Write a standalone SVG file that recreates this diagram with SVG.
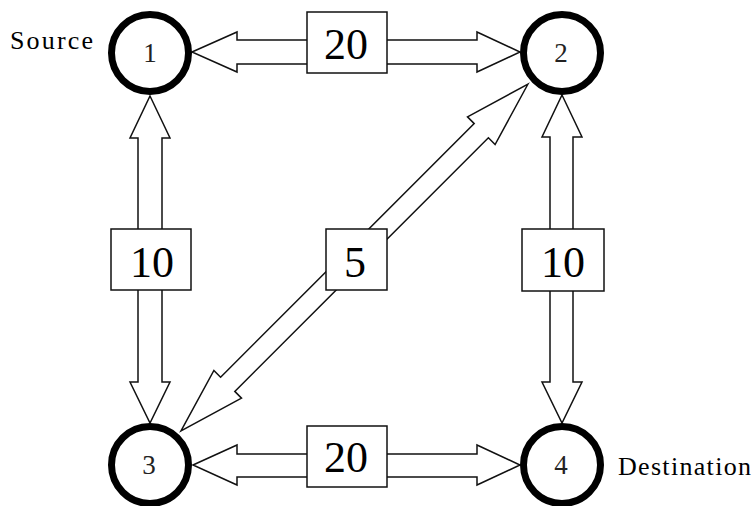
<svg xmlns="http://www.w3.org/2000/svg" width="753" height="506" viewBox="0 0 753 506">
<style>
.arrow{fill:#fff;stroke:#111;stroke-width:1.5;stroke-linejoin:miter}
.node{fill:#fff;stroke:#000;stroke-width:7}
.nlab{font-family:"Liberation Serif","Times New Roman",serif;font-size:27px;fill:#222;text-anchor:middle}
.box{fill:#fff;stroke:#111;stroke-width:1.5}
.wlab{font-family:"Liberation Serif","Times New Roman",serif;font-size:44px;fill:#000;text-anchor:middle}
.side{font-family:"Liberation Serif","Times New Roman",serif;font-size:26px;fill:#000}
</style>
<rect width="753" height="506" fill="#fff"/>
<g id="connectors">
<polygon id="e12" class="arrow" points="192,52 237,32 237,40 477,40 477,32 520,52 477,72 477,64 237,64 237,72"/>
<polygon id="e34" class="arrow" points="193,465 237,445 237,454 477,454 477,445 520,465 477,485 477,477 237,477 237,485"/>
<polygon id="e13" class="arrow" points="150,96 170,138 162,138 162,382 170,382 150,423 130,382 138,382 138,138 130,138"/>
<polygon id="e24" class="arrow" points="562,95 582,137 573,137 573,382 582,382 562,423 542,382 550,382 550,137 542,137"/>
<polygon id="e23" class="arrow" points="528,84 495.1,144.5 488.4,137.8 234.8,391.4 241.5,398.1 181,431 213.9,370.5 220.6,377.2 474.2,123.6 467.5,116.9"/>
</g>
<g id="edge-labels">
<g id="w12"><rect class="box" x="307" y="12" width="80" height="61"/><text class="wlab" x="346" y="59">20</text></g>
<g id="w34"><rect class="box" x="307" y="426" width="80" height="61"/><text class="wlab" x="346" y="472">20</text></g>
<g id="w13"><rect class="box" x="111" y="229" width="80" height="61"/><text class="wlab" x="152" y="277">10</text></g>
<g id="w24"><rect class="box" x="522" y="229" width="82" height="62"/><text class="wlab" x="563" y="277">10</text></g>
<g id="w23"><rect class="box" x="326" y="229" width="61" height="61"/><text class="wlab" x="355" y="277">5</text></g>
</g>
<g id="node1"><circle class="node" cx="150" cy="53" r="38.5"/><text class="nlab" x="150" y="62">1</text></g>
<g id="node2"><circle class="node" cx="562" cy="53" r="38.5"/><text class="nlab" x="561" y="62">2</text></g>
<g id="node3"><circle class="node" cx="150" cy="465" r="38.5"/><text class="nlab" x="149" y="474">3</text></g>
<g id="node4"><circle class="node" cx="562" cy="465" r="38.5"/><text class="nlab" x="561" y="474">4</text></g>
<text id="source-label" class="side" x="10" y="49" textLength="83" lengthAdjust="spacing">Source</text>
<text id="dest-label" class="side" x="618" y="475" textLength="133" lengthAdjust="spacing">Destination</text>
</svg>
